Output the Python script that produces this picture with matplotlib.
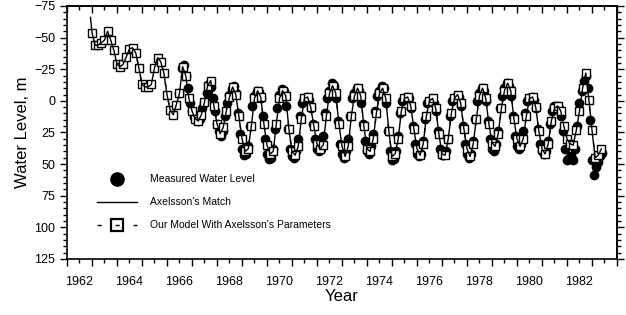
import numpy as np
import matplotlib
matplotlib.use('Agg')
from matplotlib import pyplot as plt
from matplotlib.lines import Line2D

plt.rcParams['font.family'] = ['Liberation Sans', 'DejaVu Sans']

# model output (squares), sampled every 1.5 months from mid 1962
model_start = 1962.5
model_step = 0.125
model_level = [
    -54, -44, -44, -46,
    -48, -55, -48, -40, -29, -27, -29, -35,
    -41, -42, -38, -26, -13, -11, -11, -13,
    -26, -34, -31, -22, -5, 7, 11, 3,
    -6, -27, -20, -2, 8, 14, 16, 11,
    1, -12, -16, 4, 18, 26, 21, 8,
    -3, -11, -5, 12, 30, 40, 38, 20,
    -2, -8, -3, 18, 35, 42, 40, 18,
    -2, -8, -4, 22, 40, 43, 36, 14,
    -2, -3, 5, 20, 34, 38, 35, 12,
    -6, -12, -6, 18, 36, 44, 36, 12,
    -4, -10, -4, 20, 38, 40, 30, 10,
    -6, -10, -2, 24, 44, 42, 30, 8,
    -2, -3, 4, 22, 38, 43, 34, 12,
    0, -2, 6, 26, 42, 43, 30, 10,
    -2, -5, 2, 22, 38, 44, 34, 14,
    -4, -10, -2, 18, 33, 36, 26, 6,
    -8, -14, -8, 14, 30, 36, 30, 12,
    -2, -3, 5, 24, 38, 42, 34, 16,
    6, 4, 8, 20, 30, 34, 35, 23,
    8, -10, -22, -1, 23, 45, 43, 38,
]

# Axelsson's match: starts just before the model output
match_t0 = 1962.44
match_h0 = -66

# measured water level (filled circles), monthly from 1966
meas_start = 1966.0
meas_step = 1 / 12
meas_level = [
    -6, -26, -28, -20, -10, 2, 8, 13, 15, 16, 14, 6,
    2, -6, -13, -11, -2, 8, 18, 24, 28, 24, 12, 2,
    -5, -9, -12, -6, 10, 26, 38, 43, 42, 36, 20, 4,
    -4, -8, -7, -2, 12, 30, 42, 46, 45, 38, 22, 6,
    -5, -9, -8, 4, 22, 38, 44, 45, 40, 30, 12, 2,
    -2, -3, -1, 6, 18, 30, 38, 40, 38, 28, 10, -2,
    -8, -14, -12, -2, 16, 34, 42, 45, 40, 30, 12, -2,
    -6, -10, -8, 2, 18, 32, 40, 42, 36, 26, 8, -4,
    -8, -12, -10, 2, 24, 40, 47, 46, 40, 28, 10, 0,
    -2, -3, -2, 6, 20, 34, 42, 44, 42, 32, 14, 2,
    0, 0, 2, 8, 24, 38, 43, 43, 40, 30, 12, 0,
    -2, -4, -3, 4, 20, 34, 42, 45, 42, 32, 14, 0,
    -6, -10, -8, 0, 16, 30, 38, 40, 34, 24, 6, -4,
    -10, -14, -12, -4, 12, 28, 36, 38, 34, 24, 10, 0,
    -2, -3, -1, 6, 22, 34, 40, 42, 40, 32, 18, 8,
    4, 4, 6, 12, 24, 38, 47, 45, 44, 47, 38, 20,
    2, -8, -16, -20, -10, 15, 47, 59, 52, 48, 44, 41,
]

label_years = list(range(1962, 1984))

t_model = model_start + model_step * np.arange(len(model_level))
t_meas = meas_start + meas_step * np.arange(len(meas_level))
t_match = np.concatenate([[match_t0], t_model])
h_match = [match_h0] + model_level

fig = plt.figure(figsize=(6.26, 3.15), dpi=100)
ax = fig.add_axes([0.107, 0.178, 0.8786, 0.803])

ax.plot(t_meas, meas_level, 'o', color='black', ms=6, zorder=2)
ax.plot(t_model, model_level, ls=(0, (3, 10)), color='black', lw=1,
        marker='s', ms=5.2, mfc='white', mec='black', mew=1.0, zorder=3)
ax.plot(t_match, h_match, '-', color='black', lw=1.0, zorder=4)

ax.set_xlim(1961.5, 1983.5)
ax.set_ylim(125, -75)

# long ticks at half years, labels at even years
ax.set_xticks(np.arange(1961.5, 1984, 1.0), labels=[])
ax.set_xticks(label_years, labels=[str(y) if y % 2 == 0 else '' for y in label_years], minor=True)
ax.set_yticks(np.arange(-75, 126, 25))
ax.set_yticks(np.arange(-75, 126, 5), minor=True)
ax.tick_params(axis='both', which='major', direction='out', length=5, width=1, labelsize=9, color='black')
ax.tick_params(axis='both', which='minor', direction='out', length=3, width=1, labelsize=9)
ax.tick_params(axis='x', which='minor', pad=9)

top = ax.secondary_xaxis('top')
top.set_xticks(np.arange(1961.5, 1984, 1.0), labels=[])
top.set_xticks(label_years, labels=[], minor=True)
top.tick_params(which='major', direction='in', length=5, width=1)
top.tick_params(which='minor', direction='in', length=3, width=1)

right = ax.secondary_yaxis('right')
right.set_yticks(np.arange(-75, 126, 25), labels=[])
right.set_yticks(np.arange(-75, 126, 5), labels=[], minor=True)
right.tick_params(which='major', direction='out', length=5, width=1)
right.tick_params(which='minor', direction='out', length=3, width=1)

for s in list(ax.spines.values()) + [top.spines['top'], right.spines['right']]:
    s.set_linewidth(1.2)

ax.set_xlabel('Year', fontsize=12, labelpad=1)
ax.set_ylabel('Water Level, m', fontsize=12, labelpad=3)

handles = [
    Line2D([], [], ls='none', marker='o', ms=9.5, color='black'),
    Line2D([], [], ls='-', lw=1, color='black'),
    Line2D([], [], ls=(0, (3, 10)), lw=1, color='black', marker='s', ms=8.5,
           mfc='none', mec='black', mew=1.6),
]
labels = ['Measured Water Level', "Axelsson's Match", "Our Model With Axelsson's Parameters"]
ax.legend(handles, labels, loc='upper left', bbox_to_anchor=(0.054, 0.335),
          frameon=False, fontsize=7.5, handlelength=3.85, handletextpad=1.3,
          labelspacing=1.25, borderpad=0, borderaxespad=0)

fig.savefig('out.png', dpi=100)
